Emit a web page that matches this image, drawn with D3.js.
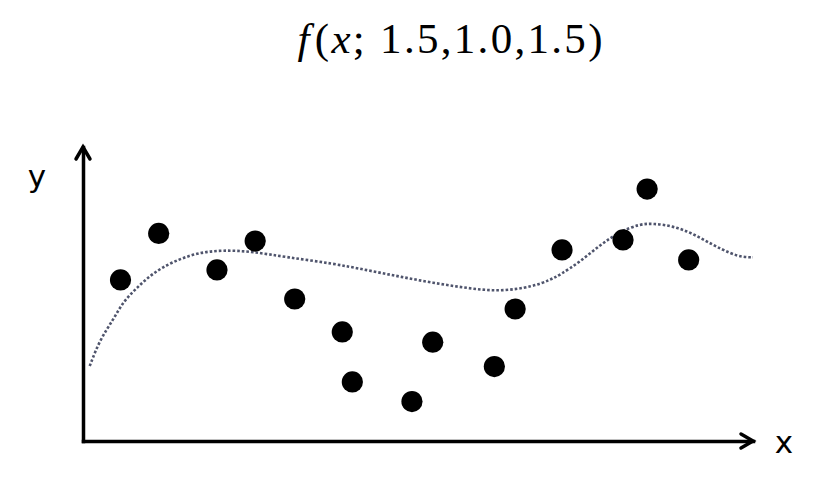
<!DOCTYPE html>
<html>
<head>
<meta charset="utf-8">
<script src="https://cdn.jsdelivr.net/npm/d3@7"></script>
<style>
  html, body { margin: 0; padding: 0; background: #fff; }
  svg { display: block; }
</style>
</head>
<body>
<svg id="chart" width="827" height="481"></svg>
<script>
// ---- data (arbitrary units 0..10) ----
const titleParams = ["1.5", "1.0", "1.5"];
const pointX = [0.56, 1.13, 2.00, 2.57, 3.16, 3.87, 4.02, 4.91, 5.22, 6.14, 6.45, 7.15, 8.06, 8.42, 9.04];
const pointY = [5.48, 7.06, 5.82, 6.80, 4.83, 3.71, 2.01, 1.34, 3.36, 2.53, 4.49, 6.50, 6.84, 8.57, 6.16];
const curveX = [0.10, 0.25, 0.45, 0.60, 0.80, 1.04, 1.34, 1.70, 2.09, 2.54, 3.04, 3.73, 4.24, 4.73, 5.22, 5.73, 6.22, 6.72, 6.97, 7.12, 7.42, 7.72, 8.01, 8.31, 8.51, 8.81, 9.10, 9.40, 9.66, 9.85, 10.0];
const curveY = [2.55, 3.44, 4.12, 4.74, 5.20, 5.71, 6.10, 6.40, 6.50, 6.44, 6.25, 6.04, 5.81, 5.59, 5.38, 5.20, 5.08, 5.25, 5.48, 5.65, 6.10, 6.67, 7.12, 7.38, 7.40, 7.31, 7.06, 6.67, 6.38, 6.25, 6.25];
const xLabel = "x";
const yLabel = "y";

const svg = d3.select("#chart");
const x = d3.scaleLinear().domain([0, 10]).range([83, 753]);
const y = d3.scaleLinear().domain([0, 10]).range([441, 147]);

// title
const title = svg.append("text")
  .attr("x", 450).attr("y", 53)
  .attr("text-anchor", "middle")
  .style("font-family", "'Liberation Serif', 'DejaVu Serif', serif")
  .style("font-size", "43px")
  .attr("fill", "#000");
title.append("tspan").style("font-style", "italic").text("f");
title.append("tspan").attr("dx", 3).text("(");
title.append("tspan").style("font-style", "italic").text("x");
title.append("tspan").text("; " + titleParams.join(","));
title.append("tspan").text(")");
title.attr("textLength", 305).attr("lengthAdjust", "spacing");

// axes (no ticks)
const gx = svg.append("g").attr("transform", `translate(0,${y(0)})`)
  .call(d3.axisBottom(x).ticks(0).tickSize(0).tickSizeOuter(0));
const gy = svg.append("g").attr("transform", `translate(${x(0)},0)`)
  .call(d3.axisLeft(y).ticks(0).tickSize(0).tickSizeOuter(0));
[gx, gy].forEach(g => {
  g.select(".domain").attr("stroke", "#000").attr("stroke-width", 3.5).attr("stroke-linecap", "square");
  g.selectAll("text").remove();
});

// arrowheads
const x0 = x(0), y0 = y(0), xEnd = x(10), yEnd = y(10);
svg.append("path")
  .attr("d", `M${x0 - 7},${yEnd + 12} L${x0},${yEnd} L${x0 + 7},${yEnd + 12}`)
  .attr("fill", "none").attr("stroke", "#000").attr("stroke-width", 3.5)
  .attr("stroke-linejoin", "miter").attr("stroke-linecap", "round");
svg.append("path")
  .attr("d", `M${xEnd - 12},${y0 - 7} L${xEnd},${y0} L${xEnd - 12},${y0 + 7}`)
  .attr("fill", "none").attr("stroke", "#000").attr("stroke-width", 3.5)
  .attr("stroke-linejoin", "miter").attr("stroke-linecap", "round");

// axis labels
svg.append("text").attr("x", 37).attr("y", 187)
  .attr("text-anchor", "middle")
  .style("font-family", "'DejaVu Sans', sans-serif").style("font-size", "31px")
  .text(yLabel);
svg.append("text").attr("x", 784).attr("y", 453)
  .attr("text-anchor", "middle")
  .style("font-family", "'DejaVu Sans', sans-serif").style("font-size", "31px")
  .text(xLabel);

// fitted curve
const curveData = curveX.map((v, i) => [v, curveY[i]]);
svg.append("path")
  .datum(curveData)
  .attr("d", d3.line().x(d => x(d[0])).y(d => y(d[1])).curve(d3.curveBasis))
  .attr("fill", "none")
  .attr("stroke", "#4f546c")
  .attr("stroke-width", 2.6)
  .attr("stroke-dasharray", "2.6,2");

// points
const pts = pointX.map((v, i) => [v, pointY[i]]);
svg.selectAll("circle.pt").data(pts).enter().append("circle")
  .attr("class", "pt")
  .attr("cx", d => x(d[0])).attr("cy", d => y(d[1]))
  .attr("r", 10.6)
  .attr("fill", "#000");
</script>
</body>
</html>
